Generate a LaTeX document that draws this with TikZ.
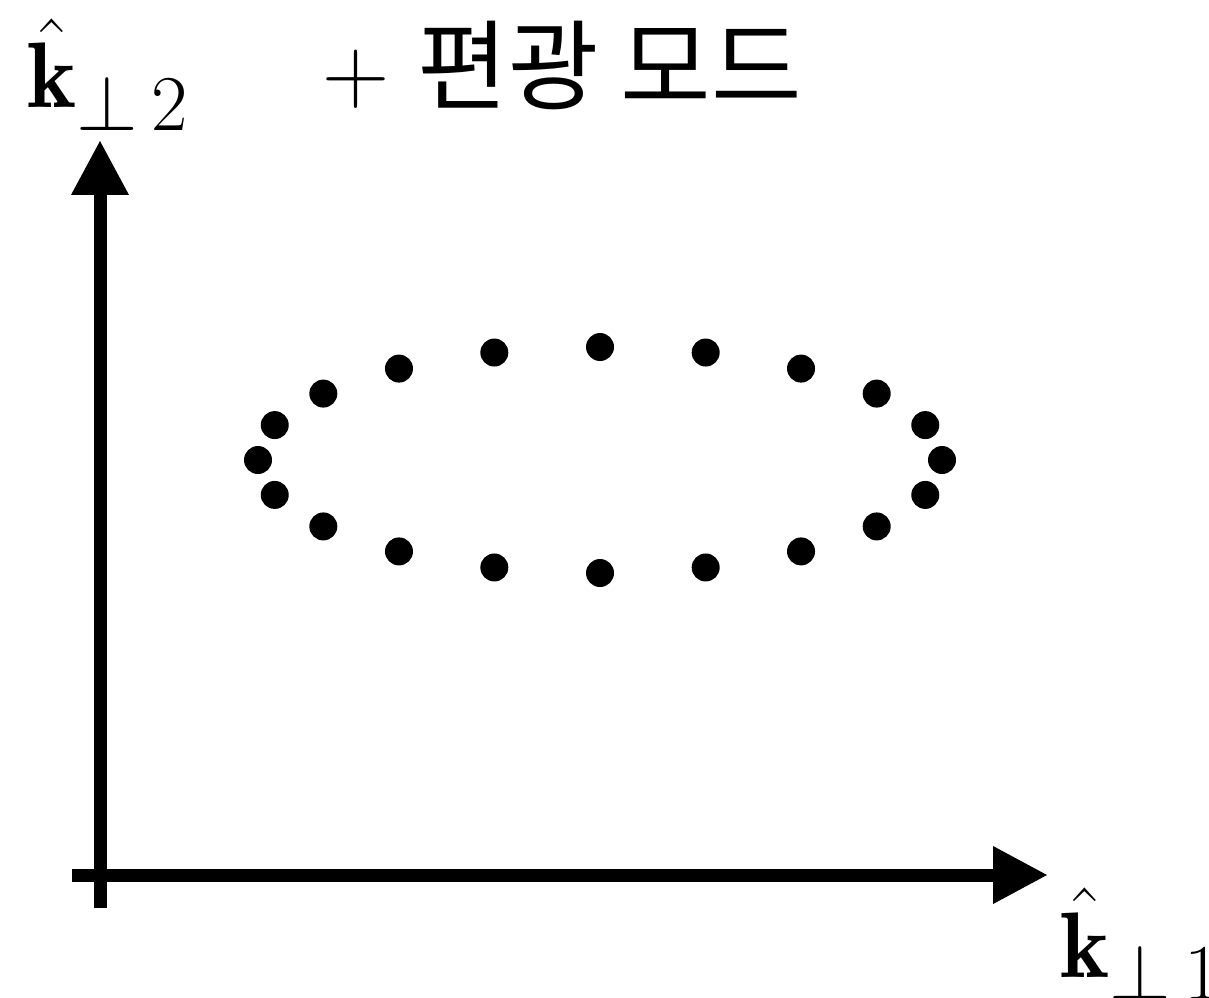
\RequirePackage{fix-cm}
\documentclass[tikz,border=0pt]{standalone}
\usepackage{amsmath}
\usepackage{fontspec}
\newfontfamily\cjk{Noto Sans CJK KR}
\DeclareMathSizes{53}{53}{45}{36}
\usetikzlibrary{arrows.meta}

\begin{document}
\begin{tikzpicture}[
  x=0.02cm, y=-0.02cm,
  >={Triangle[length=1.1cm, width=1.08cm]},
  axis/.style={->, line width=0.26cm},
  dot/.style={circle, fill=black, inner sep=0pt, minimum size=0.56cm},
  lbl/.style={inner sep=0pt, anchor=base west,
              font=\fontsize{53}{60}\selectfont}
]
\useasboundingbox (0,0) rectangle (1209,997);

%% Axes
\coordinate (ybot)   at (100,908);
\coordinate (ytop)   at (100,140);
\coordinate (xleft)  at (72,875);
\coordinate (xright) at (1048,875);
\draw[axis] (ybot) -- (ytop);
\draw[axis] (xleft) -- (xright);

%% Axis labels
\node[lbl] (k2) at (27,108)  {$\hat{\mathbf{k}}_{\perp\, 2}$};
\node[lbl] (k1) at (1060,977) {$\hat{\mathbf{k}}_{\perp\, 1}$};

%% Title
\node[lbl] (title) at (322,103)
  {$+$ {\cjk\fontsize{56}{64}\selectfont 편광 모드}};

%% Ring of dots
\foreach \i in {0,...,19}
  \node[dot] (d\i) at ({600+342*cos(18*\i)}, {460-113*sin(18*\i)}) {};

\end{tikzpicture}
\end{document}
